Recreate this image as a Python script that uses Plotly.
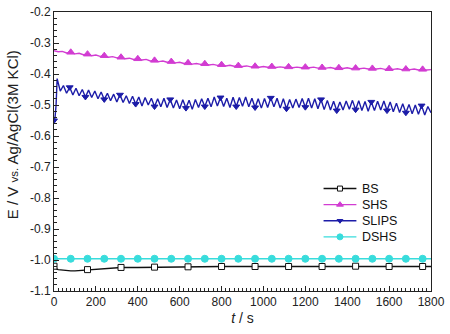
import plotly.graph_objects as go

# ---------------- data ----------------
bs_t = [0, 10, 20, 40, 60, 80, 100, 120, 140, 160, 200, 240, 280, 320, 400, 480, 560, 640,
        720, 800, 880, 960, 1040, 1120, 1200, 1280, 1360, 1440, 1520, 1600, 1680, 1760, 1800]
bs_v = [-1.020, -1.028, -1.031, -1.033, -1.034, -1.035, -1.035, -1.034, -1.033, -1.031, -1.028,
        -1.026, -1.025, -1.024, -1.024, -1.023, -1.023, -1.022, -1.022, -1.021, -1.021, -1.021,
        -1.021, -1.021, -1.021, -1.021, -1.020, -1.020, -1.021, -1.021, -1.021, -1.021, -1.021]
bs_mark_t = [0, 160, 320, 480, 640, 800, 960, 1120, 1280, 1440, 1600, 1760]

shs_t = [0, 20, 40, 60, 80, 100, 120, 140, 160, 180, 200, 220, 240, 260, 280, 300, 320, 340,
         360, 380, 400, 420, 440, 460, 480, 500, 520, 540, 560, 580, 600, 620, 640, 660, 680,
         700, 720, 740, 760, 780, 800, 820, 840, 860, 880, 900, 920, 940, 960, 980, 1000, 1020,
         1040, 1060, 1080, 1100, 1120, 1140, 1160, 1180, 1200, 1220, 1240, 1260, 1280, 1300,
         1320, 1340, 1360, 1380, 1400, 1420, 1440, 1460, 1480, 1500, 1520, 1540, 1560, 1580,
         1600, 1620, 1640, 1660, 1680, 1700, 1720, 1740, 1760, 1780, 1800]
shs_v = [-0.325, -0.328, -0.327, -0.332, -0.330, -0.335, -0.333, -0.338, -0.336, -0.341, -0.339,
         -0.343, -0.341, -0.346, -0.344, -0.348, -0.346, -0.351, -0.349, -0.353, -0.351, -0.355,
         -0.353, -0.358, -0.356, -0.360, -0.358, -0.362, -0.360, -0.364, -0.362, -0.366, -0.364,
         -0.368, -0.366, -0.369, -0.367, -0.371, -0.369, -0.372, -0.370, -0.374, -0.372, -0.375,
         -0.373, -0.376, -0.374, -0.377, -0.375, -0.378, -0.376, -0.378, -0.376, -0.379, -0.377,
         -0.379, -0.377, -0.380, -0.378, -0.380, -0.378, -0.380, -0.378, -0.381, -0.379, -0.381,
         -0.379, -0.382, -0.380, -0.382, -0.380, -0.383, -0.381, -0.383, -0.381, -0.384, -0.382,
         -0.384, -0.382, -0.385, -0.383, -0.385, -0.383, -0.386, -0.384, -0.386, -0.384, -0.387,
         -0.385, -0.387, -0.386]
shs_mark_t = [80, 160, 240, 320, 400, 480, 560, 640, 720, 800, 880, 960, 1040, 1120, 1200,
              1280, 1360, 1440, 1520, 1600, 1680, 1760]

slips_t = [0, 5, 10, 15, 30, 45, 60, 75, 90, 105, 120, 135, 150, 165, 180, 195, 210, 225, 240,
           255, 270, 285, 300, 315, 330, 345, 360, 375, 390, 405, 420, 435, 450, 465, 480, 495,
           510, 525, 540, 555, 570, 585, 600, 615, 630, 645, 660, 675, 690, 705, 720, 735, 750,
           765, 780, 795, 810, 825, 840, 855, 870, 885, 900, 915, 930, 945, 960, 975, 990, 1005,
           1020, 1035, 1050, 1065, 1080, 1095, 1110, 1125, 1140, 1155, 1170, 1185, 1200, 1215,
           1230, 1245, 1260, 1275, 1290, 1305, 1320, 1335, 1350, 1365, 1380, 1395, 1410, 1425,
           1440, 1455, 1470, 1485, 1500, 1515, 1530, 1545, 1560, 1575, 1590, 1605, 1620, 1635,
           1650, 1665, 1680, 1695, 1710, 1725, 1740, 1755, 1770, 1785, 1800]
slips_v = [-0.550, -0.540, -0.500, -0.415, -0.455, -0.437, -0.462, -0.443, -0.468, -0.446,
           -0.470, -0.450, -0.474, -0.452, -0.476, -0.455, -0.480, -0.458, -0.482, -0.462,
           -0.486, -0.465, -0.490, -0.467, -0.492, -0.470, -0.495, -0.472, -0.497, -0.474,
           -0.503, -0.476, -0.500, -0.478, -0.505, -0.480, -0.506, -0.478, -0.508, -0.482,
           -0.510, -0.484, -0.512, -0.483, -0.510, -0.485, -0.514, -0.482, -0.508, -0.480,
           -0.505, -0.478, -0.506, -0.474, -0.503, -0.476, -0.505, -0.478, -0.508, -0.475,
           -0.505, -0.476, -0.504, -0.474, -0.506, -0.478, -0.508, -0.480, -0.510, -0.479,
           -0.508, -0.477, -0.506, -0.478, -0.510, -0.480, -0.512, -0.482, -0.510, -0.481,
           -0.508, -0.479, -0.507, -0.478, -0.510, -0.480, -0.512, -0.482, -0.515, -0.485,
           -0.516, -0.488, -0.518, -0.490, -0.516, -0.487, -0.514, -0.485, -0.515, -0.486,
           -0.518, -0.489, -0.520, -0.490, -0.518, -0.488, -0.516, -0.487, -0.518, -0.490,
           -0.522, -0.494, -0.524, -0.496, -0.525, -0.498, -0.528, -0.500, -0.530, -0.502,
           -0.532, -0.505, -0.525]
slips_mark_t = [0, 75, 150, 240, 315, 390, 480, 555, 630, 720, 795, 870, 960, 1035, 1110,
                1200, 1275, 1350, 1440, 1515, 1590, 1680, 1755]

dshs_t = [0, 80, 160, 240, 320, 400, 480, 560, 640, 720, 800, 880, 960, 1040, 1120, 1200,
          1280, 1360, 1440, 1520, 1600, 1680, 1760, 1800]
dshs_v = [-0.996, -0.996, -0.996, -0.996, -0.996, -0.996, -0.996, -0.996, -0.996, -0.996,
          -0.996, -0.996, -0.996, -0.996, -0.996, -0.996, -0.996, -0.996, -0.996, -0.996,
          -0.996, -0.996, -0.996, -0.996]
dshs_mark_t = [0, 80, 160, 240, 320, 400, 480, 560, 640, 720, 800, 880, 960, 1040, 1120, 1200,
               1280, 1360, 1440, 1520, 1600, 1680, 1760]

series_names = ["BS", "SHS", "SLIPS", "DSHS"]
y_tickvals = [-0.2, -0.3, -0.4, -0.5, -0.6, -0.7, -0.8, -0.9, -1.0, -1.1]
y_ticktext = ["-0.2", "-0.3", "-0.4", "-0.5", "-0.6", "-0.7", "-0.8", "-0.9", "-1.0", "-1.1"]
x_tickvals = [0, 200, 400, 600, 800, 1000, 1200, 1400, 1600, 1800]
x_ticktext = ["0", "200", "400", "600", "800", "1000", "1200", "1400", "1600", "1800"]

FONT = "Liberation Sans, Arial"
styles = [
    ("#111111", "square", 6, "white"),
    ("#D23CD2", "triangle-up", 7, None),
    ("#1C1CA8", "triangle-down", 6, None),
    ("#38DCDC", "circle", 7, None),
]
datasets = [(bs_t, bs_v, bs_mark_t), (shs_t, shs_v, shs_mark_t),
            (slips_t, slips_v, slips_mark_t), (dshs_t, dshs_v, dshs_mark_t)]

# plot area in pixels (for the overlay legend axes)
L, R, T, B = 54, 433, 5, 291

fig = go.Figure()
for name, (t, v, mt), (col, sym, ms, fill) in zip(series_names, datasets, styles):
    mk = dict(symbol=sym, size=ms, color=fill or col, line=dict(color=col, width=1))
    fig.add_trace(go.Scatter(x=t, y=v, mode="lines", line=dict(color=col, width=1.4),
                             showlegend=False, hoverinfo="skip"))
    lookup = dict(zip(t, v))
    fig.add_trace(go.Scatter(x=mt, y=[lookup[k] for k in mt], mode="markers",
                             marker=mk, showlegend=False))

# manual legend on pixel-based overlay axes
leg_rows = [186, 202.5, 219, 235.5]
for i, (name, (col, sym, ms, fill)) in enumerate(zip(series_names, styles)):
    yy = leg_rows[i]
    mk = dict(symbol=sym, size=ms - 1, color=fill or col, line=dict(color=col, width=1))
    fig.add_trace(go.Scatter(x=[325, 358], y=[yy, yy], mode="lines", line=dict(color=col, width=1.4),
                             xaxis="x2", yaxis="y2", showlegend=False, hoverinfo="skip"))
    fig.add_trace(go.Scatter(x=[341.5], y=[yy], mode="markers", marker=mk,
                             xaxis="x2", yaxis="y2", showlegend=False, hoverinfo="skip"))
    fig.add_annotation(x=362, y=yy, xref="x2", yref="y2", text=name, showarrow=False,
                       xanchor="left", yanchor="middle",
                       font=dict(family=FONT, size=12.5, color="#111"))

# y-axis title as annotation (centered like the reference)
fig.add_annotation(x=(13 - L) / (R - L), y=(B - 131) / (B - T), xref="paper", yref="paper",
                   textangle=-90, showarrow=False,
                   text="E / V <span style='font-size:11.5px'>vs.</span> Ag/AgCl(3M KCl)",
                   font=dict(family=FONT, size=15, color="#222"), xanchor="center", yanchor="middle")

axis_common = dict(showline=True, linecolor="#222", linewidth=1, mirror=True, ticks="inside",
                   ticklen=5, tickcolor="#222", showgrid=False, zeroline=False,
                   ticklabeloverflow="allow",
                   tickfont=dict(family=FONT, size=12, color="#222"))

fig.update_layout(
    xaxis=dict(range=[0, 1800], tickvals=x_tickvals, ticktext=x_ticktext,
               minor=dict(ticks="inside", dtick=20, ticklen=3, tickcolor="#222"),
               title=dict(text="<i>t</i> / s", font=dict(family=FONT, size=14, color="#222"), standoff=4),
               **axis_common),
    yaxis=dict(range=[-1.1, -0.2], tickvals=y_tickvals, ticktext=y_ticktext,
               minor=dict(ticks="inside", dtick=0.02, ticklen=3, tickcolor="#222"),
               **axis_common),
    xaxis2=dict(overlaying="x", range=[L, R], visible=False, fixedrange=True),
    yaxis2=dict(overlaying="y", range=[B, T], visible=False, fixedrange=True),
    width=450, height=334,
    margin=dict(l=L, r=450 - R, t=T, b=334 - B),
    plot_bgcolor="white", paper_bgcolor="white",
    showlegend=False,
)

fig.write_html("out.html")
